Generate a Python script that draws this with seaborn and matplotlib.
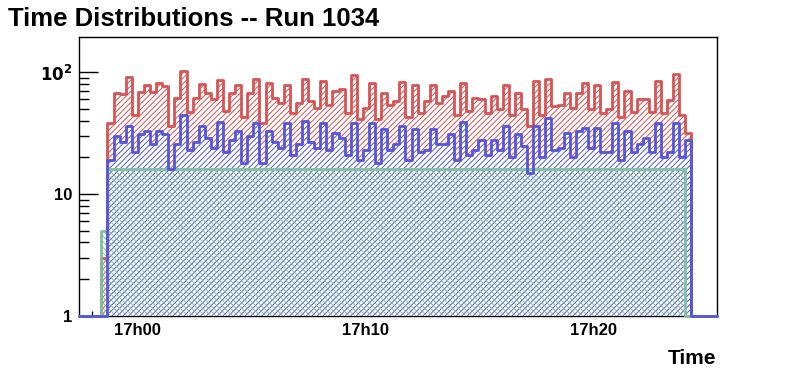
import numpy as np
import pandas as pd
import matplotlib
matplotlib.use('Agg')
import matplotlib.pyplot as plt
import matplotlib.ticker as mticker
import seaborn as sns

# time axis in minutes after 17h00, 16 s bins
first_bin_start = -1.58
bin_width = 16 / 60
x_range = (-2.56, 25.39)
y_range = (1, 194)

red_counts = [3, 38, 67, 66, 92, 45, 69, 78, 69, 82, 77, 36, 62, 102, 47, 62,
              80, 67, 60, 87, 48, 68, 78, 43, 67, 88, 38, 82, 62, 56, 78, 46,
              56, 88, 58, 51, 85, 54, 70, 73, 46, 95, 41, 51, 81, 41, 67, 54,
              58, 84, 43, 78, 46, 58, 78, 56, 64, 70, 45, 81, 48, 62, 60, 46,
              64, 50, 78, 45, 68, 50, 36, 85, 45, 88, 53, 54, 68, 51, 68, 81,
              50, 79, 46, 50, 83, 43, 70, 47, 60, 60, 47, 85, 46, 59, 97, 45, 32]
blue_counts = [0, 19, 30, 27, 36, 22, 31, 33, 26, 33, 31, 16, 26, 45, 23, 27,
               36, 29, 24, 39, 22, 28, 33, 18, 30, 38, 18, 33, 27, 24, 38, 21,
               26, 40, 27, 24, 38, 23, 32, 29, 21, 38, 19, 23, 38, 18, 34, 23,
               26, 36, 19, 34, 22, 23, 34, 26, 26, 31, 19, 39, 21, 23, 28, 21,
               28, 23, 36, 20, 31, 25, 15, 36, 20, 42, 23, 24, 32, 20, 33, 35,
               24, 35, 22, 22, 38, 19, 33, 22, 26, 29, 22, 38, 20, 22, 38, 20, 28]
green_counts = [5] + [16] * 95 + [0]

tick_minutes = [0, 10, 20]
tick_labels = ['17h00', '17h10', '17h20']

red = '#d95353'
blue = '#5555dd'
green = '#80c0a0'

n = len(red_counts)
edges = np.concatenate([[x_range[0]],
                        first_bin_start + bin_width * np.arange(n + 1),
                        [x_range[1]]])
centers = (edges[:-1] + edges[1:]) / 2
bin_list = edges.tolist()

sns.set_style('white')
plt.rcParams['font.family'] = ['Liberation Sans', 'DejaVu Sans']
plt.rcParams['hatch.linewidth'] = 0.7
for key in ['text.color', 'axes.labelcolor', 'xtick.color', 'ytick.color']:
    plt.rcParams[key] = 'black'

fig = plt.figure(figsize=(7.96, 3.72), dpi=100)
ax = fig.add_axes([79 / 796, 56.3 / 372, 637.5 / 796, 278.4 / 372])
ax.set_yscale('log')


def padded(counts):
    vals = np.concatenate([[0], counts, [0]])
    return pd.DataFrame({'t': centers, 'n': np.maximum(vals, y_range[0])})


fills = [
    (red_counts, red, '//////', 'white'),
    (blue_counts, blue, '//////', 'white'),
    (green_counts, green, '\\\\\\\\\\\\', 'none'),
]
for counts, color, hatch, face in fills:
    sns.histplot(data=padded(counts), x='t', weights='n', bins=bin_list,
                 element='step', fill=True, ax=ax, color=color, linewidth=0)
    poly = ax.collections[-1]
    poly.set_facecolor(face)
    poly.set_edgecolor(color)
    poly.set_hatch(hatch)
    poly.set_linewidth(0)

# outlines: blue last, as in the original
for counts, color in [(red_counts, red), (green_counts, green), (blue_counts, blue)]:
    sns.histplot(data=padded(counts), x='t', weights='n', bins=bin_list,
                 element='step', fill=False, ax=ax, color=color, linewidth=2,
                 clip_on=False)

ax.set_xlim(*x_range)
ax.set_ylim(*y_range)

ax.set_xticks(tick_minutes)
ax.set_xticklabels(tick_labels, fontweight='bold', fontsize=12)
ax.xaxis.set_minor_locator(mticker.MultipleLocator(2))
ax.set_yticks([1, 10, 100])
ax.set_yticklabels(['1', '10', r'$\mathbf{10^{2}}$'], fontweight='bold', fontsize=12)
ax.yaxis.set_minor_locator(mticker.LogLocator(subs=np.arange(2, 10)))
ax.yaxis.set_minor_formatter(mticker.NullFormatter())

ax.tick_params(axis='y', which='major', direction='in', length=14, width=1, pad=5)
ax.tick_params(axis='y', which='minor', direction='in', length=7, width=1)
ax.tick_params(axis='x', which='major', direction='in', length=6.5, width=1, pad=5)
ax.tick_params(axis='x', which='minor', direction='in', length=3.5, width=1)
ax.tick_params(left=True, bottom=True, top=False, right=False)
ax.tick_params(which='minor', left=True, bottom=True, top=False, right=False)

for s in ax.spines.values():
    s.set_color('black')
    s.set_linewidth(1)
    s.set_zorder(0.5)

ax.set_xlabel('Time', fontweight='bold', fontsize=15, loc='right', labelpad=8)
ax.set_ylabel('')
fig.text(8 / 796, 1 - 26 / 372, 'Time Distributions -- Run 1034',
         fontweight='bold', fontsize=18.5, ha='left', va='baseline')

fig.savefig('out.png', dpi=100)
